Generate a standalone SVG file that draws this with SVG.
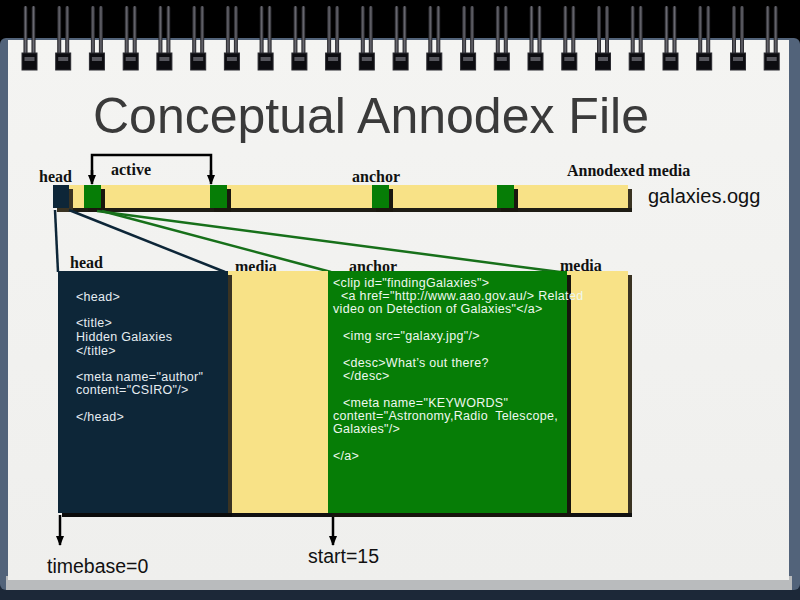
<svg xmlns="http://www.w3.org/2000/svg" xmlns:xlink="http://www.w3.org/1999/xlink" width="800" height="600" viewBox="0 0 800 600">
<style>
.serif{font-family:"Liberation Serif","Times New Roman",serif;font-weight:bold;font-size:16px;fill:#111}
.sans{font-family:"Liberation Sans",Arial,sans-serif}
.code{font-family:"Liberation Sans",Arial,sans-serif;font-size:12.5px;letter-spacing:0.3px}
.yel{fill:#f8e287}
.shd{fill:#3a3322}
.nav{fill:#0d2638}
.grn{fill:#067d06}
.conn{fill:none;stroke-width:2.5}
</style>
<defs>
<linearGradient id="wire" x1="0" y1="0" x2="1" y2="0">
<stop offset="0" stop-color="#1a1a1e"/><stop offset="0.5" stop-color="#6a6a72"/><stop offset="1" stop-color="#1a1a1e"/>
</linearGradient>
<linearGradient id="pageg" x1="0" y1="0" x2="0" y2="1">
<stop offset="0" stop-color="#f4f4f2"/><stop offset="1" stop-color="#efefed"/>
</linearGradient>
<g id="ring">
<rect x="-6" y="6" width="4" height="52" rx="2" fill="url(#wire)"/>
<rect x="2" y="6" width="4" height="52" rx="2" fill="url(#wire)"/>
<rect x="-7.5" y="53" width="15" height="17" fill="#0c0c10" stroke="#2a2a30" stroke-width="1"/>
<rect x="-5" y="57" width="10" height="4" fill="#55555c"/>
</g>
<marker id="ah" markerWidth="8" markerHeight="10" refX="4" refY="9" orient="0" markerUnits="userSpaceOnUse" viewBox="0 0 8 10">
<path d="M0,0 L8,0 L4,10 Z" fill="#000"/>
</marker>
</defs>

<!-- background and notebook page -->
<rect x="0" y="0" width="800" height="600" fill="#000"/>
<rect x="0" y="560" width="800" height="40" fill="#1c2838"/>
<rect x="0" y="38" width="800" height="552" rx="6" fill="#52637a"/>
<rect x="6" y="576" width="786" height="14" fill="#b9bbbd"/>
<rect x="8" y="40" width="781" height="540" fill="url(#pageg)"/>

<g id="rings">
<use xlink:href="#ring" x="29.5"/><use xlink:href="#ring" x="63.2"/><use xlink:href="#ring" x="96.9"/><use xlink:href="#ring" x="130.7"/>
<use xlink:href="#ring" x="164.4"/><use xlink:href="#ring" x="198.2"/><use xlink:href="#ring" x="231.9"/><use xlink:href="#ring" x="265.6"/>
<use xlink:href="#ring" x="299.4"/><use xlink:href="#ring" x="333.1"/><use xlink:href="#ring" x="366.8"/><use xlink:href="#ring" x="400.6"/>
<use xlink:href="#ring" x="434.3"/><use xlink:href="#ring" x="468.1"/><use xlink:href="#ring" x="501.8"/><use xlink:href="#ring" x="535.5"/>
<use xlink:href="#ring" x="569.3"/><use xlink:href="#ring" x="603.0"/><use xlink:href="#ring" x="636.7"/><use xlink:href="#ring" x="670.5"/>
<use xlink:href="#ring" x="704.2"/><use xlink:href="#ring" x="738.0"/><use xlink:href="#ring" x="771.7"/>
</g>

<text id="title" class="sans" x="93" y="133" font-size="50" fill="#3a3a3a">Conceptual Annodex File</text>

<!-- top timeline labels -->
<g id="top-labels">
<text class="serif" x="39" y="182" fill="#1c2a38">head</text>
<text class="serif" x="111" y="175">active</text>
<text class="serif" x="352" y="182">anchor</text>
<text class="serif" x="567" y="176" font-size="15.5" fill="#1c2a38">Annodexed media</text>
<text class="sans" x="648" y="203" font-size="20" fill="#111">galaxies.ogg</text>
</g>

<!-- top timeline bar -->
<g id="media-bar">
<rect class="shd" x="72" y="189" width="560" height="23"/>
<rect x="72" y="208" width="560" height="4" fill="#1e1c14"/>
<rect class="yel" x="68" y="185" width="560" height="23"/>
</g>
<g id="head-block">
<rect class="shd" x="57" y="189" width="16" height="23"/>
<rect class="nav" x="53" y="185" width="16" height="23"/>
</g>
<g id="active-start">
<rect x="88" y="189" width="17" height="23" fill="#1a170e"/>
<rect class="grn" x="84" y="185" width="17" height="23"/>
</g>
<g id="active-end">
<rect x="214" y="189" width="17" height="23" fill="#1a170e"/>
<rect class="grn" x="210" y="185" width="17" height="23"/>
</g>
<g id="anchor-1">
<rect x="376" y="189" width="17" height="23" fill="#1a170e"/>
<rect class="grn" x="372" y="185" width="17" height="23"/>
</g>
<g id="anchor-2">
<rect x="501" y="189" width="17" height="23" fill="#1a170e"/>
<rect class="grn" x="497" y="185" width="17" height="23"/>
</g>

<!-- bottom labels -->
<g id="bottom-labels">
<text class="serif" x="70" y="268" fill="#1c2a38">head</text>
<text class="serif" x="235" y="272">media</text>
<text class="serif" x="349" y="272">anchor</text>
<text class="serif" x="560" y="271">media</text>
</g>

<!-- connectors -->
<g id="connectors">
<line class="conn" x1="55" y1="210" x2="58" y2="272" stroke="#0d2638"/>
<line class="conn" x1="69" y1="210" x2="225" y2="272" stroke="#0d2638"/>
<line class="conn" x1="102" y1="211" x2="331" y2="272" stroke="#17701a"/>
<line class="conn" x1="97" y1="211" x2="560" y2="272" stroke="#17701a"/>
<polyline class="conn" points="92,175 92,155 211,155 211,175" stroke="#000"/>
<line class="conn" x1="92" y1="170" x2="92" y2="184" stroke="#000" marker-end="url(#ah)"/>
<line class="conn" x1="211" y1="170" x2="211" y2="184" stroke="#000" marker-end="url(#ah)"/>
<line class="conn" x1="60" y1="515" x2="60" y2="545" stroke="#000" stroke-width="2" marker-end="url(#ah)"/>
<line class="conn" x1="333" y1="515" x2="333" y2="545" stroke="#000" stroke-width="2" marker-end="url(#ah)"/>
</g>

<!-- bottom expanded timeline -->
<g id="media-panel">
<rect class="shd" x="62" y="275" width="570" height="242"/>
<rect x="62" y="513" width="570" height="4" fill="#111"/>
<rect class="yel" x="58" y="271" width="570" height="242"/>
</g>
<g id="head-panel">
<rect class="shd" x="62" y="275" width="170" height="242"/>
<rect x="62" y="513" width="170" height="4" fill="#0b0b0b"/>
<rect class="nav" x="58" y="271" width="170" height="242"/>
<g class="code" fill="#e6edf2">
<text x="76" y="301">&lt;head&gt;</text>
<text x="76" y="327">&lt;title&gt;</text>
<text x="76" y="341">Hidden Galaxies</text>
<text x="76" y="355">&lt;/title&gt;</text>
<text x="76" y="381">&lt;meta name="author"</text>
<text x="76" y="394">content="CSIRO"/&gt;</text>
<text x="76" y="421">&lt;/head&gt;</text>
</g>
</g>
<g id="anchor-panel">
<rect x="332" y="275" width="239" height="242" fill="#17140c"/>
<rect class="grn" x="328" y="271" width="239" height="242"/>
<g class="code" fill="#eef8ee">
<text x="333" y="287">&lt;clip id="findingGalaxies"&gt;</text>
<text x="341" y="300">&lt;a href="http://www.aao.gov.au/&gt; Related</text>
<text x="333" y="313">video on Detection of Galaxies"&lt;/a&gt;</text>
<text x="343" y="340">&lt;img src="galaxy.jpg"/&gt;</text>
<text x="343" y="367">&lt;desc&gt;What’s out there?</text>
<text x="343" y="380">&lt;/desc&gt;</text>
<text x="343" y="407">&lt;meta name="KEYWORDS"</text>
<text x="333" y="420">content="Astronomy,Radio&#160; Telescope,</text>
<text x="333" y="433">Galaxies"/&gt;</text>
<text x="333" y="460">&lt;/a&gt;</text>
</g>
</g>

<g id="time-labels">
<text class="sans" x="47" y="573" font-size="19.5" fill="#111">timebase=0</text>
<text class="sans" x="308" y="563" font-size="19.5" fill="#111">start=15</text>
</g>
</svg>
